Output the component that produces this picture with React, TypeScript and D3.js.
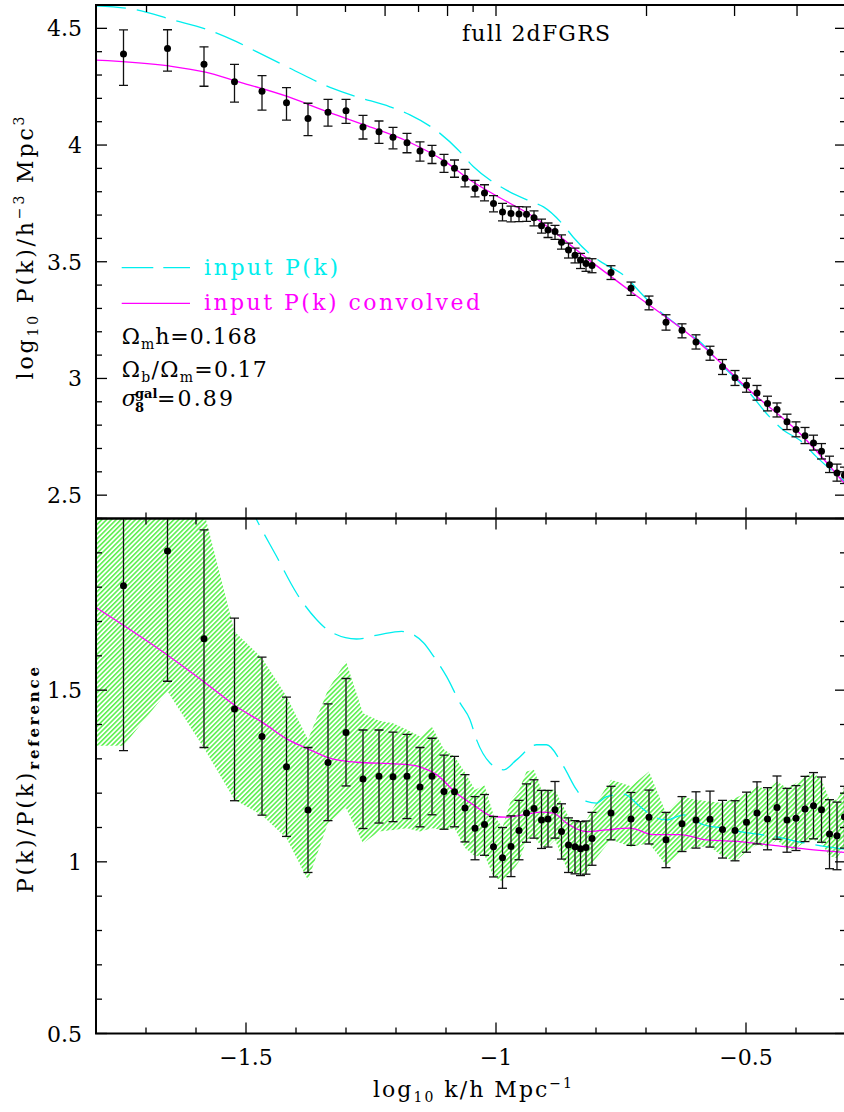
import React from "react";
import * as d3 from "d3";

// log10 k/h Mpc^-1 of the measured bins
const logK = [
  -1.745, -1.657, -1.584, -1.523, -1.468, -1.419, -1.376, -1.336, -1.3, -1.266,
  -1.234, -1.206, -1.178, -1.152, -1.128, -1.104, -1.083, -1.062, -1.042, -1.023,
  -1.005, -0.987, -0.97, -0.954, -0.939, -0.924, -0.909, -0.896, -0.882, -0.869,
  -0.855, -0.842, -0.831, -0.82, -0.808, -0.77, -0.73, -0.694, -0.66, -0.628,
  -0.6, -0.572, -0.547, -0.522, -0.499, -0.478, -0.457, -0.438, -0.418, -0.4,
  -0.382, -0.365, -0.349, -0.333, -0.318, -0.303,
];

// top panel: log10 P(k) with error bar ends
const pkTop = [
  4.39, 4.414, 4.346, 4.271, 4.231, 4.181, 4.114, 4.141, 4.147, 4.077,
  4.057, 4.033, 4.01, 3.974, 3.963, 3.923, 3.901, 3.858, 3.814, 3.795,
  3.75, 3.713, 3.707, 3.705, 3.704, 3.688, 3.654, 3.636, 3.63, 3.584,
  3.55, 3.528, 3.508, 3.493, 3.484, 3.454, 3.386, 3.326, 3.241, 3.206,
  3.156, 3.111, 3.05, 3.003, 2.971, 2.938, 2.893, 2.867, 2.814, 2.781,
  2.754, 2.724, 2.688, 2.63, 2.595, 2.585,
];
const pkTopHi = [
  4.493, 4.494, 4.421, 4.346, 4.297, 4.246, 4.179, 4.196, 4.196, 4.127,
  4.103, 4.076, 4.05, 4.014, 3.999, 3.96, 3.936, 3.896, 3.849, 3.83,
  3.783, 3.75, 3.738, 3.736, 3.735, 3.718, 3.683, 3.666, 3.656, 3.615,
  3.58, 3.558, 3.536, 3.516, 3.513, 3.483, 3.413, 3.353, 3.273, 3.234,
  3.187, 3.138, 3.081, 3.034, 3.001, 2.97, 2.924, 2.895, 2.847, 2.814,
  2.79, 2.757, 2.721, 2.667, 2.633, 2.62,
];
const pkTopLo = [
  4.256, 4.317, 4.252, 4.184, 4.15, 4.107, 4.04, 4.081, 4.093, 4.026,
  4.007, 3.984, 3.967, 3.931, 3.921, 3.883, 3.862, 3.821, 3.778, 3.761,
  3.714, 3.675, 3.671, 3.672, 3.673, 3.654, 3.623, 3.604, 3.596, 3.554,
  3.516, 3.495, 3.471, 3.459, 3.453, 3.424, 3.356, 3.294, 3.207, 3.174,
  3.126, 3.078, 3.017, 2.97, 2.941, 2.907, 2.861, 2.835, 2.781, 2.75,
  2.721, 2.693, 2.655, 2.597, 2.56, 2.55,
];

// bottom panel: P(k)/P(k)_reference with error bar ends
const ratio = [
  1.804, 1.905, 1.65, 1.445, 1.365, 1.277, 1.151, 1.289, 1.377, 1.241,
  1.249, 1.248, 1.249, 1.218, 1.249, 1.205, 1.204, 1.157, 1.098, 1.109,
  1.044, 1.012, 1.045, 1.091, 1.142, 1.155, 1.122, 1.125, 1.152, 1.088,
  1.049, 1.044, 1.038, 1.042, 1.068, 1.142, 1.125, 1.13, 1.064, 1.111,
  1.122, 1.124, 1.094, 1.091, 1.115, 1.142, 1.125, 1.158, 1.122, 1.127,
  1.154, 1.163, 1.152, 1.081, 1.076, 1.131,
];
const ratioHi = [
  2.35, 2.4, 1.967, 1.71, 1.596, 1.48, 1.333, 1.46, 1.534, 1.384,
  1.384, 1.378, 1.371, 1.333, 1.36, 1.311, 1.307, 1.254, 1.19, 1.196,
  1.132, 1.1, 1.134, 1.179, 1.227, 1.239, 1.208, 1.208, 1.234, 1.169,
  1.128, 1.12, 1.117, 1.119, 1.144, 1.22, 1.202, 1.209, 1.144, 1.19,
  1.204, 1.206, 1.179, 1.178, 1.203, 1.233, 1.216, 1.25, 1.214, 1.222,
  1.249, 1.26, 1.247, 1.181, 1.174, 1.22,
];
const ratioLo = [
  1.324, 1.526, 1.333, 1.178, 1.136, 1.074, 0.969, 1.12, 1.221, 1.097,
  1.113, 1.117, 1.126, 1.102, 1.137, 1.095, 1.102, 1.058, 1.006, 1.019,
  0.956, 0.923, 0.957, 1.006, 1.057, 1.069, 1.039, 1.043, 1.069, 1.008,
  0.969, 0.965, 0.96, 0.964, 0.99, 1.064, 1.048, 1.052, 0.983, 1.03,
  1.04, 1.043, 1.011, 1.003, 1.028, 1.052, 1.035, 1.066, 1.028, 1.033,
  1.059, 1.067, 1.057, 0.98, 0.977, 1.04,
];

// hatched green band in the bottom panel (first entry lies left of the frame)
const bandK = [-1.85, ...logK];
const bandUpper = [
  2.4, 2.4, 2.5, 2.02, 1.671, 1.594, 1.482, 1.356, 1.501, 1.584, 1.433,
  1.411, 1.404, 1.385, 1.365, 1.393, 1.327, 1.307, 1.26, 1.21, 1.222,
  1.137, 1.1, 1.181, 1.21, 1.263, 1.268, 1.21, 1.21, 1.21, 1.171,
  1.132, 1.118, 1.113, 1.118, 1.151, 1.239, 1.22, 1.263, 1.142, 1.19,
  1.181, 1.176, 1.171, 1.186, 1.2, 1.22, 1.21, 1.234, 1.215, 1.229,
  1.249, 1.259, 1.239, 1.181, 1.181, 1.22,
];
const bandLower = [
  1.338, 1.338, 1.497, 1.331, 1.181, 1.136, 1.069, 0.946, 1.113, 1.157, 1.054,
  1.088, 1.093, 1.098, 1.088, 1.098, 1.093, 1.098, 1.04, 1.016, 1.02,
  0.957, 0.943, 0.967, 1.001, 1.064, 1.073, 1.044, 1.044, 1.064, 1.016,
  0.97, 0.967, 0.962, 0.967, 0.996, 1.064, 1.044, 1.054, 0.991, 1.03,
  1.044, 1.044, 1.016, 1.001, 1.03, 1.049, 1.044, 1.064, 1.035, 1.039,
  1.059, 1.064, 1.054, 1.016, 1.011, 1.044,
];

// model curves, top panel
const inputK = [
  -1.8, -1.719, -1.646, -1.579, -1.519, -1.479, -1.412, -1.332, -1.279, -1.212,
  -1.172, -1.112, -1.075, -1.045, -1.002, -0.979, -0.929, -0.905, -0.865, -0.845,
  -0.805, -0.785, -0.735, -0.722, -0.679, -0.659, -0.615, -0.592, -0.552, -0.525,
  -0.492, -0.459, -0.425, -0.392, -0.359, -0.3,
];
const inputP = [
  4.596, 4.579, 4.536, 4.496, 4.443, 4.4, 4.329, 4.247, 4.207, 4.164,
  4.129, 4.05, 3.978, 3.907, 3.836, 3.807, 3.757, 3.735, 3.657, 3.604,
  3.521, 3.493, 3.424, 3.393, 3.3, 3.264, 3.193, 3.157, 3.064, 3.007,
  2.936, 2.85, 2.778, 2.735, 2.664, 2.555,
];
const convK = [
  -1.8, -1.654, -1.581, -1.52, -1.416, -1.346, -1.263, -1.175, -1.101, -1.052,
  -1.002, -0.925, -0.805, -0.725, -0.592, -0.492, -0.392, -0.3,
];
const convP = [
  4.364, 4.339, 4.312, 4.274, 4.207, 4.15, 4.086, 4.014, 3.928, 3.85,
  3.786, 3.693, 3.493, 3.364, 3.15, 2.947, 2.764, 2.542,
];

// model curves, bottom panel
const ratioInK = [
  -1.5, -1.479, -1.439, -1.399, -1.359, -1.332, -1.279, -1.232, -1.189, -1.172,
  -1.145, -1.125, -1.099, -1.072, -1.052, -1.039, -1.012, -0.985, -0.959, -0.919,
  -0.899, -0.865, -0.839, -0.819, -0.799, -0.779, -0.745, -0.712, -0.685, -0.659,
  -0.625, -0.585, -0.545, -0.512, -0.445, -0.379, -0.3,
];
const ratioIn = [
  2.06, 1.997, 1.89, 1.783, 1.706, 1.671, 1.649, 1.662, 1.671, 1.666,
  1.638, 1.599, 1.54, 1.463, 1.414, 1.356, 1.288, 1.268, 1.297, 1.341,
  1.341, 1.278, 1.21, 1.176, 1.171, 1.19, 1.197, 1.161, 1.132, 1.122,
  1.137, 1.108, 1.098, 1.088, 1.074, 1.054, 1.036,
];
const ratioConvK = [
  -1.8, -1.742, -1.654, -1.581, -1.52, -1.465, -1.416, -1.373, -1.333, -1.279,
  -1.212, -1.175, -1.145, -1.119, -1.079, -1.045, -1.005, -0.979, -0.945, -0.912,
  -0.885, -0.859, -0.819, -0.779, -0.732, -0.685, -0.632, -0.579, -0.512, -0.445,
  -0.379, -0.3,
];
const ratioConv = [
  1.741, 1.686, 1.599, 1.521, 1.453, 1.404, 1.356, 1.327, 1.302, 1.29,
  1.286, 1.283, 1.273, 1.254, 1.2, 1.166, 1.132, 1.13, 1.137, 1.145,
  1.142, 1.113, 1.088, 1.093, 1.098, 1.079, 1.079, 1.064, 1.059, 1.048,
  1.037, 1.027,
];

// tick values
const topKTicks = [0.02, 0.03, 0.04, 0.05, 0.06, 0.07, 0.08, 0.09, 0.1, 0.2, 0.3, 0.4, 0.5];
const topKMajor = [0.03, 0.04, 0.06, 0.08, 0.1, 0.2, 0.3, 0.4];
const xTickLabels = [-1.5, -1, -0.5];
const pkTickLabels = [4.5, 4, 3.5, 3, 2.5];
const ratioTickLabels = [1.5, 1, 0.5];

const FONT = "DejaVu Serif";
const CYAN = "#00eeee";
const MAGENTA = "#ff00ff";
const GREEN = "#3fee2f";

const fmt = (v: number) => String(v).replace("-", "\u2212");

const App = () => {
  const left = 96;
  const right = 846;
  const top = 5;
  const mid = 518.5;
  const bottom = 1033.5;

  const x = d3.scaleLinear().domain([-1.8, -0.3]).range([left, right]);
  const yTop = d3.scaleLinear().domain([2.4, 4.6]).range([mid, top]);
  const yBot = d3.scaleLinear().domain([0.5, 2.0]).range([bottom, mid]);

  const lineTop = (ks: number[], vs: number[]) =>
    d3
      .line<number>()
      .x((d) => x(ks[d]))
      .y((d) => yTop(vs[d]))
      .curve(d3.curveMonotoneX)(d3.range(ks.length)) || "";
  const lineBot = (ks: number[], vs: number[]) =>
    d3
      .line<number>()
      .x((d) => x(ks[d]))
      .y((d) => yBot(vs[d]))
      .curve(d3.curveMonotoneX)(d3.range(ks.length)) || "";

  const bandPath =
    d3
      .area<number>()
      .x((d) => x(bandK[d]))
      .y0((d) => yBot(bandLower[d]))
      .y1((d) => yBot(bandUpper[d]))(d3.range(bandK.length)) || "";

  const xMinor = d3.range(-1.8, -0.29, 0.1).map((v) => +v.toFixed(2));
  const isMajor = (v: number) => Math.abs(v * 2 - Math.round(v * 2)) < 1e-6;
  const pkMinor = d3.range(2.4, 4.61, 0.1).map((v) => +v.toFixed(2));
  const ratioMinor = d3.range(0.5, 2.01, 0.1).map((v) => +v.toFixed(2));

  const major = 11;
  const minor = 6;

  const errBars = (hi: number[], lo: number[], y: (v: number) => number) =>
    logK.map((k, i) => (
      <g key={i} stroke="#111" strokeWidth={1.3}>
        <line x1={x(k)} x2={x(k)} y1={y(hi[i])} y2={y(lo[i])} />
        <line x1={x(k) - 4.5} x2={x(k) + 4.5} y1={y(hi[i])} y2={y(hi[i])} />
        <line x1={x(k) - 4.5} x2={x(k) + 4.5} y1={y(lo[i])} y2={y(lo[i])} />
      </g>
    ));
  const dots = (vals: number[], y: (v: number) => number) =>
    logK.map((k, i) => <circle key={i} cx={x(k)} cy={y(vals[i])} r={3.5} fill="#000" />);

  return (
    <svg
      width={844}
      height={1112}
      style={{ position: "absolute", left: 0, top: 0, background: "#fff" }}
      fontFamily={FONT}
    >
      <defs>
        <clipPath id="clipTop">
          <rect x={left} y={top} width={right - left} height={mid - top} />
        </clipPath>
        <clipPath id="clipBot">
          <rect x={left} y={mid} width={right - left} height={bottom - mid} />
        </clipPath>
        <pattern
          id="hatch"
          width={3.4}
          height={3.4}
          patternUnits="userSpaceOnUse"
          patternTransform="rotate(45)"
        >
          <line x1={0.8} y1={0} x2={0.8} y2={3.4} stroke={GREEN} strokeWidth={1.35} />
        </pattern>
      </defs>

      {/* top panel data */}
      <g clipPath="url(#clipTop)">
        <path d={lineTop(inputK, inputP)} fill="none" stroke={CYAN} strokeWidth={1.3} strokeDasharray="30 11" />
        <path d={lineTop(convK, convP)} fill="none" stroke={MAGENTA} strokeWidth={1.3} />
        {errBars(pkTopHi, pkTopLo, yTop)}
        {dots(pkTop, yTop)}
      </g>

      {/* bottom panel data */}
      <g clipPath="url(#clipBot)">
        <path d={bandPath} fill="url(#hatch)" />
        <path d={lineBot(ratioInK, ratioIn)} fill="none" stroke={CYAN} strokeWidth={1.3} strokeDasharray="30 11" />
        <path d={lineBot(ratioConvK, ratioConv)} fill="none" stroke={MAGENTA} strokeWidth={1.3} />
        {errBars(ratioHi, ratioLo, yBot)}
        {dots(ratio, yBot)}
      </g>

      {/* ticks */}
      <g stroke="#000" strokeWidth={1.3}>
        {topKTicks.map((k) => {
          const px = x(Math.log10(k));
          const len = topKMajor.includes(k) ? major : 7;
          return <line key={"tk" + k} x1={px} x2={px} y1={top} y2={top + len} />;
        })}
        {xMinor.map((v) => {
          const len = isMajor(v) ? major : minor;
          return (
            <g key={"xm" + v}>
              <line x1={x(v)} x2={x(v)} y1={mid} y2={mid - len} />
              <line x1={x(v)} x2={x(v)} y1={mid} y2={mid + len} />
              <line x1={x(v)} x2={x(v)} y1={bottom} y2={bottom - len} />
            </g>
          );
        })}
        {pkMinor.map((v) => {
          const len = isMajor(v) ? major : minor;
          return (
            <g key={"pm" + v}>
              <line x1={left} x2={left + len} y1={yTop(v)} y2={yTop(v)} />
              <line x1={right} x2={right - len} y1={yTop(v)} y2={yTop(v)} />
            </g>
          );
        })}
        {ratioMinor.map((v) => {
          const len = isMajor(v) ? major : minor;
          return (
            <g key={"rm" + v}>
              <line x1={left} x2={left + len} y1={yBot(v)} y2={yBot(v)} />
              <line x1={right} x2={right - len} y1={yBot(v)} y2={yBot(v)} />
            </g>
          );
        })}
      </g>

      {/* frames */}
      <rect x={left} y={top} width={right - left} height={mid - top} fill="none" stroke="#000" strokeWidth={2} />
      <rect x={left} y={mid} width={right - left} height={bottom - mid} fill="none" stroke="#000" strokeWidth={2} />

      {/* tick labels */}
      <g fontSize={22} fill="#000">
        {pkTickLabels.map((v) => (
          <text key={"pl" + v} x={82} y={yTop(v) + 8} textAnchor="end">
            {fmt(v)}
          </text>
        ))}
        {ratioTickLabels.map((v) => (
          <text key={"rl" + v} x={82} y={yBot(v) + 8} textAnchor="end">
            {fmt(v)}
          </text>
        ))}
        {xTickLabels.map((v) => (
          <text key={"xl" + v} x={x(v)} y={1065} textAnchor="middle">
            {fmt(v)}
          </text>
        ))}
      </g>

      {/* axis titles */}
      <text x={373} y={1097} fontSize={22} textLength={199} lengthAdjust="spacing">
        <tspan>log</tspan>
        <tspan fontSize={14} dy={5}>10</tspan>
        <tspan dy={-5}> k/h Mpc</tspan>
        <tspan fontSize={14} dy={-9}>{"\u22121"}</tspan>
      </text>
      <text
        transform="translate(33,248) rotate(-90)"
        textAnchor="middle"
        fontSize={22}
        textLength={263}
        lengthAdjust="spacing"
      >
        <tspan>log</tspan>
        <tspan fontSize={14} dy={5}>10</tspan>
        <tspan dy={-5}> P(k)/h</tspan>
        <tspan fontSize={14} dy={-9}>{"\u22123"}</tspan>
        <tspan dy={9}> Mpc</tspan>
        <tspan fontSize={14} dy={-9}>3</tspan>
      </text>
      <text
        transform="translate(33,780) rotate(-90)"
        textAnchor="middle"
        fontSize={22}
        textLength={226}
        lengthAdjust="spacing"
      >
        <tspan>P(k)/P(k)</tspan>
        <tspan fontSize={15} fontWeight="bold" dy={6}>reference</tspan>
      </text>

      {/* title */}
      <text x={462} y={41} fontSize={22} textLength={148} lengthAdjust="spacing">
        full 2dFGRS
      </text>

      {/* legend */}
      <line x1={121.7} x2={190} y1={267.7} y2={267.7} stroke={CYAN} strokeWidth={1.3} strokeDasharray="31.6 10" />
      <text x={204} y={275} fontSize={22} fill={CYAN} textLength={134} lengthAdjust="spacing">
        input P(k)
      </text>
      <line x1={121.7} x2={190} y1={303.3} y2={303.3} stroke={MAGENTA} strokeWidth={1.3} />
      <text x={204} y={310} fontSize={22} fill={MAGENTA} textLength={276} lengthAdjust="spacing">
        input P(k) convolved
      </text>
      <text x={121.7} y={344} fontSize={22} textLength={135} lengthAdjust="spacing">
        <tspan>Ω</tspan>
        <tspan fontSize={14} dy={5}>m</tspan>
        <tspan dy={-5}>h=0.168</tspan>
      </text>
      <text x={121.7} y={377} fontSize={22} textLength={145} lengthAdjust="spacing">
        <tspan>Ω</tspan>
        <tspan fontSize={14} dy={5}>b</tspan>
        <tspan dy={-5}>/Ω</tspan>
        <tspan fontSize={14} dy={5}>m</tspan>
        <tspan dy={-5}>=0.17</tspan>
      </text>
      <text x={121.7} y={405.7} fontSize={22} fontStyle="italic">σ</text>
      <text x={135} y={398} fontSize={13} fontWeight="bold">gal</text>
      <text x={135} y={412} fontSize={13} fontWeight="bold">8</text>
      <text x={157} y={405.7} fontSize={22} textLength={76} lengthAdjust="spacing">
        =0.89
      </text>
    </svg>
  );
};

export default App;
